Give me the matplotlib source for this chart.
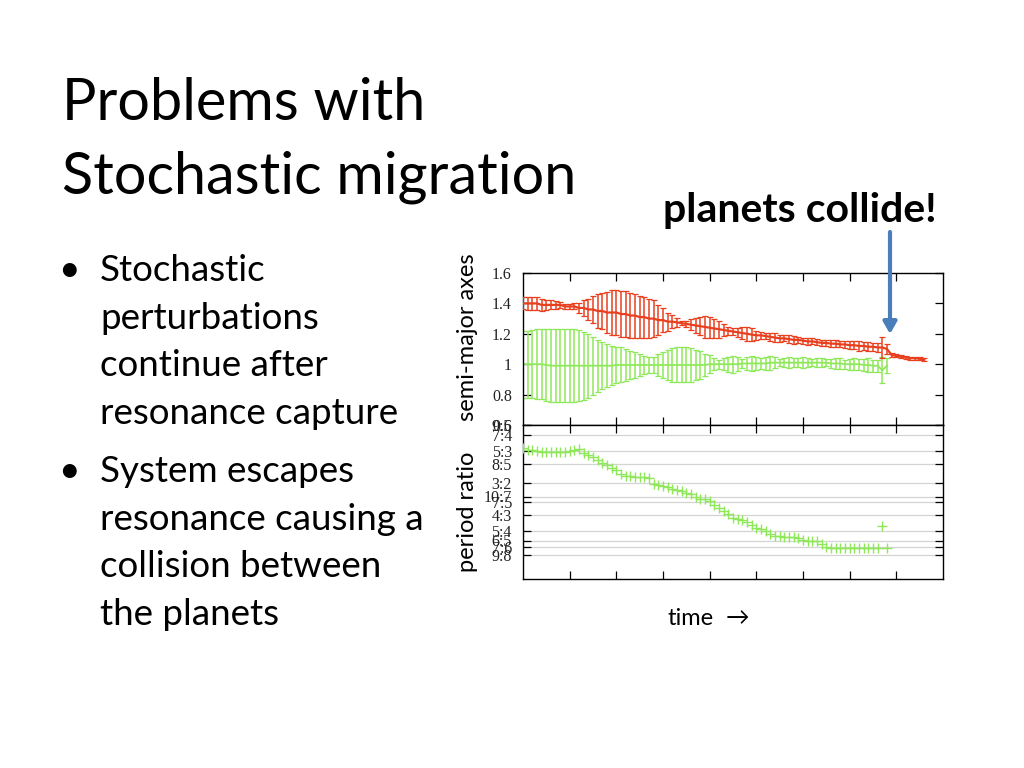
import numpy as np
import matplotlib
matplotlib.use("Agg")
import matplotlib.pyplot as plt
from matplotlib.patches import FancyArrowPatch

# ---------------- data ----------------
# time sampled in units of the x tick spacing
t_red = np.round(np.arange(0, 8.61, 0.1), 2)
t_green = np.round(np.arange(0, 7.81, 0.1), 2)

red_a = [1.40, 1.40, 1.40, 1.40, 1.39, 1.39, 1.39, 1.39, 1.39, 1.38,
         1.38, 1.38, 1.37, 1.37, 1.36, 1.36, 1.35, 1.35, 1.34, 1.34,
         1.34, 1.33, 1.33, 1.32, 1.32, 1.31, 1.31, 1.30, 1.30, 1.29,
         1.29, 1.28, 1.28, 1.275, 1.27, 1.265, 1.26, 1.255, 1.25, 1.245,
         1.24, 1.235, 1.23, 1.225, 1.22, 1.215, 1.21, 1.205, 1.20, 1.195,
         1.19, 1.19, 1.185, 1.18, 1.175, 1.17, 1.17, 1.165, 1.16, 1.16,
         1.155, 1.15, 1.15, 1.145, 1.14, 1.14, 1.135, 1.135, 1.13, 1.13,
         1.125, 1.125, 1.12, 1.12, 1.115, 1.115, 1.11, 1.11, 1.10, 1.06,
         1.055, 1.05, 1.045, 1.04, 1.04, 1.035, 1.03]
red_err = [0.040, 0.045, 0.045, 0.045, 0.040, 0.035, 0.030, 0.025, 0.020, 0.015,
           0.015, 0.020, 0.035, 0.050, 0.070, 0.090, 0.110, 0.120, 0.135, 0.145,
           0.150, 0.150, 0.150, 0.150, 0.145, 0.140, 0.135, 0.130, 0.120, 0.100,
           0.080, 0.060, 0.045, 0.030, 0.015, 0.020, 0.035, 0.050, 0.060, 0.070,
           0.070, 0.065, 0.055, 0.040, 0.025, 0.020, 0.030, 0.040, 0.045, 0.040,
           0.030, 0.025, 0.020, 0.025, 0.030, 0.025, 0.020, 0.025, 0.025, 0.020,
           0.020, 0.025, 0.020, 0.020, 0.020, 0.020, 0.025, 0.025, 0.020, 0.025,
           0.025, 0.025, 0.030, 0.025, 0.030, 0.025, 0.030, 0.070, 0.030, 0.015,
           0.010, 0.010, 0.010, 0.010, 0.010, 0.010, 0.010]

green_a = [1.00, 1.00, 1.00, 1.00, 1.00, 0.995, 0.99, 0.99, 0.99, 0.99,
           0.99, 0.99, 0.99, 0.99, 0.99, 0.99, 0.99, 0.99, 0.99, 0.99,
           0.995, 0.995, 0.995, 0.995, 0.995, 0.995, 0.995, 0.995, 0.995, 0.995,
           0.995, 0.995, 0.995, 0.995, 0.995, 0.995, 0.995, 0.995, 0.995, 0.995,
           1.00, 1.00, 1.00, 1.00, 1.00, 1.00, 1.00, 1.005, 1.005, 1.005,
           1.005, 1.005, 1.005, 1.01, 1.01, 1.01, 1.01, 1.01, 1.01, 1.01,
           1.01, 1.01, 1.01, 1.01, 1.01, 1.01, 1.005, 1.005, 1.005, 1.00,
           1.00, 1.00, 1.00, 0.995, 0.995, 0.99, 0.99, 0.96, 0.99]
green_err = [0.220, 0.220, 0.225, 0.230, 0.230, 0.235, 0.240, 0.240, 0.240, 0.240,
             0.240, 0.240, 0.235, 0.225, 0.210, 0.190, 0.170, 0.155, 0.140, 0.130,
             0.120, 0.115, 0.105, 0.095, 0.085, 0.070, 0.060, 0.050, 0.055, 0.070,
             0.085, 0.100, 0.110, 0.115, 0.115, 0.115, 0.110, 0.100, 0.090, 0.075,
             0.060, 0.040, 0.030, 0.040, 0.050, 0.055, 0.045, 0.030, 0.040, 0.050,
             0.045, 0.035, 0.040, 0.045, 0.035, 0.025, 0.030, 0.035, 0.030, 0.030,
             0.035, 0.030, 0.025, 0.030, 0.030, 0.025, 0.030, 0.035, 0.035, 0.030,
             0.035, 0.040, 0.035, 0.040, 0.045, 0.040, 0.040, 0.085, 0.050]

ratio = [1.678, 1.672, 1.668, 1.664, 1.660, 1.658, 1.660, 1.660, 1.662, 1.662,
         1.664, 1.668, 1.675, 1.655, 1.645, 1.632, 1.620, 1.605, 1.590, 1.578,
         1.565, 1.545, 1.535, 1.533, 1.532, 1.530, 1.530, 1.527, 1.495, 1.488,
         1.482, 1.476, 1.470, 1.462, 1.455, 1.448, 1.440, 1.425, 1.418, 1.415,
         1.405, 1.385, 1.370, 1.355, 1.340, 1.318, 1.310, 1.305, 1.295, 1.280,
         1.265, 1.258, 1.250, 1.232, 1.225, 1.222, 1.220, 1.220, 1.218, 1.215,
         1.205, 1.200, 1.198, 1.195, 1.180, 1.165, 1.160, 1.160, 1.160, 1.160,
         1.160, 1.160, 1.160, 1.160, 1.160, 1.160, 1.160, 1.277, 1.160]

a_ticks = [0.6, 0.8, 1.0, 1.2, 1.4, 1.6]
a_labels = ["0.6", "0.8", "1", "1.2", "1.4", "1.6"]
res_vals = [9/5, 7/4, 5/3, 8/5, 3/2, 10/7, 7/5, 4/3, 5/4, 6/5, 7/6, 9/8]
res_labels = ["9:5", "7:4", "5:3", "8:5", "3:2", "10:7", "7:5", "4:3", "5:4", "6:5", "7:6", "9:8"]

title_lines = ["Problems with", "Stochastic migration"]
bullets = [["Stochastic", "perturbations", "continue after", "resonance capture"],
           ["System escapes", "resonance causing a", "collision between", "the planets"]]

RED = "#e8401f"
GREEN = "#8fe85a"
SANS = ["Lato", "DejaVu Sans"]
SERIF = ["Liberation Serif", "DejaVu Serif"]

W, H = 1024, 768
fig = plt.figure(figsize=(W / 100, H / 100), dpi=100)


def P(x, y):
    return (x / W, 1 - y / H)


# ---------------- axes ----------------
ax1 = fig.add_axes([523 / W, 1 - 425 / H, 420 / W, 152 / H])
ax2 = fig.add_axes([523 / W, 1 - 579 / H, 420 / W, 154 / H])

ax1.errorbar(t_green, green_a, yerr=green_err, color=GREEN, lw=1.3,
             elinewidth=1.1, capsize=2.5, capthick=0.9, zorder=2)
ax1.errorbar(t_red, red_a, yerr=red_err, color=RED, lw=1.6,
             elinewidth=1.1, capsize=2.5, capthick=0.9, zorder=3)
ax1.set_xlim(0, 9)
ax1.set_ylim(0.6, 1.6)
ax1.set_yticks(a_ticks)
ax1.set_yticklabels(a_labels)

ax2.plot(t_green, ratio, ls="none", marker="+", ms=7, mew=1.0, color=GREEN, zorder=3)
ax2.set_xlim(0, 9)
ax2.set_ylim(1.0, 1.8)
ax2.set_yticks(res_vals)
ax2.set_yticklabels(res_labels)
for v in res_vals[1:]:
    ax2.axhline(v, color="#d4d4d4", lw=0.9, zorder=1)

for ax in (ax1, ax2):
    ax.set_xticks(range(1, 9))
    ax.set_xticklabels([])
    ax.tick_params(direction="in", length=6, width=0.9, top=True, right=True,
                   labelsize=11.5, pad=8)
    for lab in ax.get_yticklabels():
        lab.set_fontfamily(SERIF)
        lab.set_color("#222222")
    for s in ax.spines.values():
        s.set_linewidth(1.0)

# ---------------- axis labels ----------------
fig.text(*P(467, 337), "semi-major axes", rotation=90, ha="center", va="center",
         fontsize=17, family=SANS)
fig.text(*P(467, 512), "period ratio", rotation=90, ha="center", va="center",
         fontsize=17, family=SANS)
fig.text(*P(668, 625), "time", ha="left", va="baseline", fontsize=17, family=SANS)
fig.text(*P(726, 625), "\u2192", ha="left", va="baseline", fontsize=17, family=SANS)

# ---------------- slide text ----------------
fig.text(*P(62, 120), title_lines[0], ha="left", va="baseline", fontsize=41.5, family=SANS)
fig.text(*P(62, 193), title_lines[1], ha="left", va="baseline", fontsize=41.5, family=SANS)
fig.text(*P(663, 222), "planets collide!", ha="left", va="baseline", fontsize=29.5,
         family=SANS, fontweight="bold")

base = [[281, 329, 376, 424], [482, 530, 577, 625]]
for group, ys in zip(bullets, base):
    fig.text(*P(58, ys[0]), "\u2022", ha="left", va="baseline", fontsize=27, family=SANS)
    for line, y in zip(group, ys):
        fig.text(*P(100, y), line, ha="left", va="baseline", fontsize=26.5, family=SANS)

# ---------------- blue arrow ----------------
arr = FancyArrowPatch(P(890, 232), P(890, 334), transform=fig.transFigure,
                      arrowstyle="-|>,head_length=7,head_width=4", color="#4a7ebb",
                      lw=3, mutation_scale=1.0, shrinkA=0, shrinkB=0)
fig.patches.append(arr)

fig.savefig("out.png", dpi=100)
